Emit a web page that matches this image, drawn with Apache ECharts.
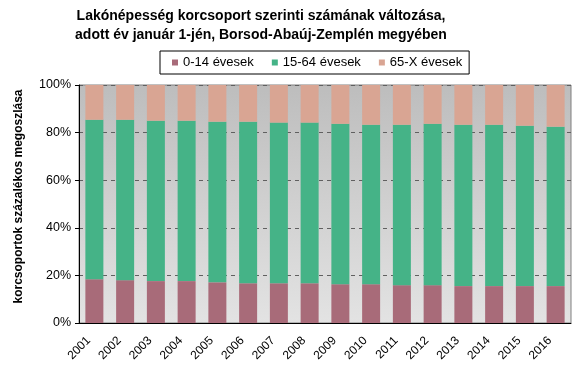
<!DOCTYPE html>
<html>
<head>
<meta charset="utf-8">
<script src="https://cdn.jsdelivr.net/npm/echarts@6/dist/echarts.min.js"></script>
<style>html,body{margin:0;padding:0;background:#fff}#c{width:577px;height:372px}</style>
</head>
<body>
<div id="c"></div>
<script>
const years = ['2001','2002','2003','2004','2005','2006','2007','2008','2009','2010','2011','2012','2013','2014','2015','2016'];
const age0_14 = [18.4,18.0,17.6,17.6,17.1,16.7,16.7,16.7,16.3,16.3,15.9,15.9,15.5,15.5,15.5,15.5];
const age15_64 = [67.0,67.4,67.4,67.4,67.5,67.9,67.5,67.5,67.4,67.0,67.4,67.8,67.8,67.8,67.4,67.0];
const age65plus = [14.6,14.6,15.0,15.0,15.4,15.4,15.8,15.8,16.3,16.7,16.7,16.3,16.7,16.7,17.1,17.5];
const seriesNames = ['0-14 évesek','15-64 évesek','65-X évesek'];
const yTicks = [0,20,40,60,80,100];
const colors = ['#A86B79','#45B387','#D9A593'];
const font = '"Liberation Sans", Arial, sans-serif';

const chart = echarts.init(document.getElementById('c'), null, {renderer:'canvas'});
const mk = (name, data, color) => ({
  name, type:'bar', stack:'a', data, barWidth:18,
  itemStyle:{color}, emphasis:{disabled:true}
});
chart.setOption({
  animation:false,
  textStyle:{fontFamily:font},
  title:{
    text:'Lakónépesség korcsoport szerinti számának változása,\nadott év január 1-jén, Borsod-Abaúj-Zemplén megyében',
    left:256, textAlign:'center', top:2,
    textStyle:{fontFamily:font, fontSize:14, fontWeight:'bold', color:'#000', lineHeight:19}
  },
  legend:{
    data:seriesNames, left:160, top:51,
    padding:[5,7,5,12], borderColor:'#000', borderWidth:1,
    itemWidth:6, itemHeight:6, itemGap:18, icon:'rect',
    textStyle:{fontFamily:font, fontSize:13, color:'#000'}
  },
  grid:{
    left:79, right:6, top:85, bottom:49, show:true,
    borderColor:'#808080', borderWidth:1,
    backgroundColor:new echarts.graphic.LinearGradient(0,0,0,1,[{offset:0,color:'#BDBDBD'},{offset:1,color:'#E3E3E3'}])
  },
  xAxis:{
    type:'category', data:years, boundaryGap:true,
    axisLine:{lineStyle:{color:'#000'}},
    axisTick:{alignWithLabel:false, length:4, lineStyle:{color:'#000'}},
    axisLabel:{rotate:45, fontFamily:font, fontSize:12, color:'#000', margin:10, padding:[0,8,0,0]}
  },
  yAxis:{
    type:'value', min:0, max:100, interval:20,
    name:'korcsoportok százalékos megoszlása', nameLocation:'middle', nameGap:54, nameRotate:90,
    nameTextStyle:{fontFamily:font, fontSize:12, fontWeight:'bold', color:'#000', padding:[0,0,0,15]},
    axisLine:{show:true, lineStyle:{color:'#000'}},
    axisTick:{show:true, length:4, lineStyle:{color:'#000'}},
    axisLabel:{fontFamily:font, fontSize:12.5, color:'#000', margin:8,
      formatter:v => yTicks.includes(v) ? v + '%' : ''},
    splitLine:{show:true, lineStyle:{color:'#606060', type:[4,4], width:1}}
  },
  series:[
    mk(seriesNames[0], age0_14, colors[0]),
    mk(seriesNames[1], age15_64, colors[1]),
    mk(seriesNames[2], age65plus, colors[2])
  ]
});
</script>
</body>
</html>
